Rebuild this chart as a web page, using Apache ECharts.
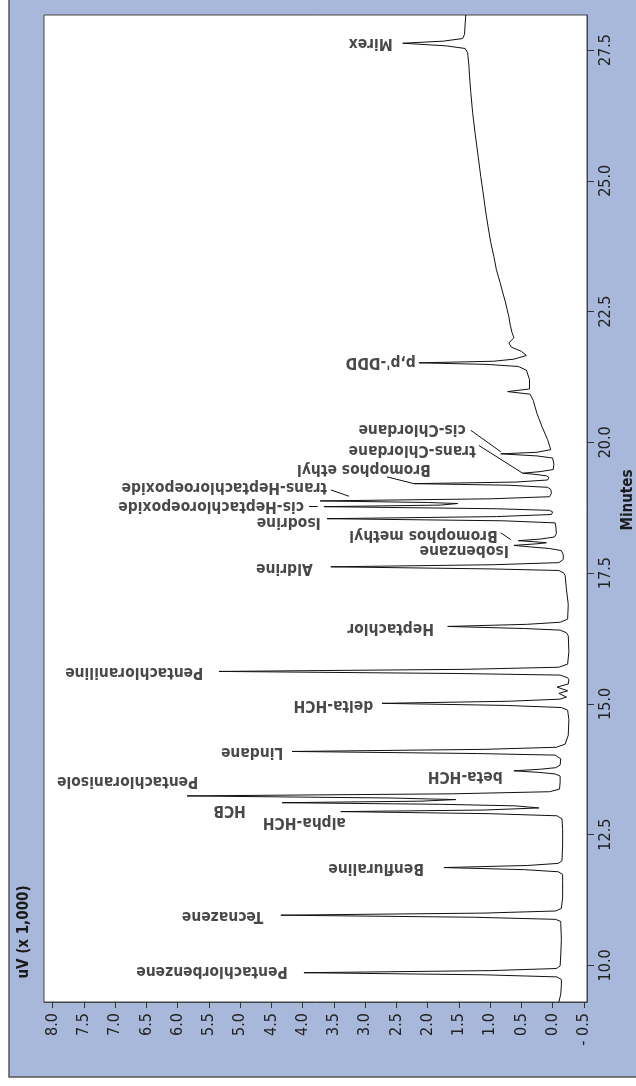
<!DOCTYPE html>
<html>
<head>
<meta charset="utf-8">
<script src="https://cdn.jsdelivr.net/npm/echarts@6/dist/echarts.min.js"></script>
<style>
html,body{margin:0;padding:0;background:#ffffff;}
#chart{width:636px;height:1086px;}
</style>
</head>
<body>
<div id="chart"></div>
<script>
// ---- data ----
const timeTicks = [10.0, 12.5, 15.0, 17.5, 20.0, 22.5, 25.0, 27.5];
const signalTicks = [-0.5, 0.0, 0.5, 1.0, 1.5, 2.0, 2.5, 3.0, 3.5, 4.0, 4.5, 5.0, 5.5, 6.0, 6.5, 7.0, 7.5, 8.0];

const traceTime = [
  9.30, 9.45, 9.62,
  9.73, 9.78, 9.82, 9.86, 9.90, 9.94, 9.99,
  10.20, 10.50, 10.80,
  10.84, 10.88, 10.92, 10.96, 11.00, 11.04, 11.09,
  11.30, 11.60,
  11.74, 11.79, 11.83, 11.87, 11.91, 11.95, 12.00,
  12.30, 12.60,
  12.80, 12.86, 12.90, 12.94, 12.97, 13.01,
  13.05, 13.08, 13.11, 13.14, 13.17,
  13.20, 13.24, 13.28, 13.32, 13.37,
  13.50,
  13.62, 13.66, 13.69, 13.72, 13.75, 13.78, 13.83, 13.95,
  13.98, 14.02, 14.05, 14.09, 14.13, 14.17, 14.23,
  14.40, 14.70,
  14.88, 14.93, 14.97, 15.01, 15.05, 15.09, 15.13,
  15.20, 15.25, 15.32, 15.38, 15.46,
  15.50, 15.55, 15.58, 15.62, 15.66, 15.70, 15.76,
  16.00, 16.30,
  16.36, 16.41, 16.44, 16.48, 16.52, 16.56, 16.62,
  16.90, 17.20, 17.45,
  17.50, 17.55, 17.58, 17.62, 17.66, 17.70, 17.76, 17.85,
  17.93, 17.97, 18.00, 18.03, 18.06, 18.08,
  18.10, 18.12, 18.15, 18.19, 18.26, 18.40,
  18.46, 18.50, 18.54, 18.58, 18.62, 18.67,
  18.70, 18.73, 18.77, 18.80, 18.83,
  18.85, 18.88, 18.92, 18.96, 19.02, 19.10,
  19.14, 19.18, 19.21, 19.24, 19.28, 19.33,
  19.36, 19.39, 19.41, 19.44, 19.48, 19.58,
  19.70, 19.74, 19.78, 19.81, 19.86,
  20.05, 20.30, 20.55, 20.80, 20.92, 20.97, 21.02, 21.20, 21.38,
  21.45, 21.49, 21.52, 21.55, 21.59, 21.66, 21.74, 21.82, 21.90,
  22.00, 22.10, 22.25, 22.40, 22.55, 22.70, 22.87, 23.05, 23.30, 23.55, 23.82,
  24.10, 24.40, 24.75, 25.08, 25.45, 25.90, 26.30, 26.69, 27.00, 27.20, 27.45,
  27.53, 27.58, 27.63, 27.67, 27.72, 27.80, 28.00, 28.17
];
const traceSignal = [
  -0.10, -0.13, -0.14,
  -0.14, -0.07, 1.10, 3.98, 1.00, -0.06, -0.12,
  -0.13, -0.14, -0.13,
  -0.13, -0.05, 1.25, 4.35, 1.10, -0.05, -0.14,
  -0.16, -0.16,
  -0.16, -0.09, 0.45, 1.74, 0.40, -0.09, -0.15,
  -0.16, -0.16,
  -0.15, -0.07, 1.00, 3.39, 1.10, 0.22,
  0.60, 1.80, 4.33, 2.10, 1.55,
  2.60, 5.85, 1.60, 0.05, -0.11,
  -0.12,
  -0.12, -0.04, 0.22, 0.62, 0.20, -0.05, -0.12, -0.13,
  -0.12, -0.04, 1.20, 4.17, 1.10, -0.06, -0.20,
  -0.25, -0.26,
  -0.24, -0.14, 0.75, 2.73, 0.70, -0.12, -0.22,
  -0.10, -0.24, -0.07, -0.25, -0.26,
  -0.24, -0.12, 1.50, 5.34, 1.40, -0.10, -0.24,
  -0.26, -0.25,
  -0.22, -0.12, 0.45, 1.68, 0.42, -0.12, -0.24,
  -0.25, -0.22, -0.20,
  -0.18, -0.10, 1.00, 3.55, 0.95, -0.10, -0.17, -0.17,
  -0.14, 0.05, 0.35, 0.62, 0.25, 0.10,
  0.30, 0.55, 0.20, -0.03, -0.06, -0.05,
  -0.04, 0.80, 3.61, 0.90, 0.02, 0.00,
  0.05, 0.90, 3.66, 1.80, 1.52,
  2.00, 3.72, 1.00, 0.05, 0.02, 0.03,
  0.08, 0.70, 2.22, 0.60, 0.08, 0.06,
  0.10, 0.30, 0.48, 0.20, -0.01, -0.02,
  0.00, 0.25, 0.83, 0.25, 0.03,
  0.08, 0.17, 0.25, 0.31, 0.36, 0.72, 0.37, 0.37, 0.42,
  0.55, 1.05, 2.14, 0.95, 0.62, 0.42, 0.50, 0.66, 0.70,
  0.62, 0.65, 0.68, 0.70, 0.73, 0.76, 0.80, 0.84, 0.90, 0.94, 0.99,
  1.03, 1.07, 1.11, 1.15, 1.19, 1.24, 1.28, 1.31, 1.33, 1.34, 1.36,
  1.40, 1.70, 2.40, 1.75, 1.44, 1.41, 1.40, 1.39
];

const labelNames = [
  'Pentachlorbenzene', 'Tecnazene', 'Benfluraline', 'alpha-HCH', 'HCB', 'Pentachloranisole',
  'beta-HCH', 'Lindane', 'delta-HCH', 'Pentachloraniline', 'Heptachlor', 'Aldrine',
  'Isobenzane', 'Bromophos methyl', 'Isodrine', 'cis-Heptachloroepoxide', 'trans-Heptachloroepoxide',
  'Bromophos ethyl', 'trans-Chlordane', 'cis-Chlordane', "p,p'-DDD", 'Mirex'
];
const labelTime = [
  9.89, 10.94, 11.86, 12.74, 12.97, 13.53,
  13.62, 14.08, 14.98, 15.61, 16.45, 17.60,
  17.94, 18.22, 18.47, 18.78, 19.14,
  19.49, 19.86, 20.25, 21.53, 27.63
];
const labelSignal = [
  4.24, 4.63, 2.06, 3.31, 4.91, 5.67,
  0.80, 4.31, 2.87, 5.59, 1.90, 3.84,
  0.70, 0.88, 3.71, 3.98, 3.61,
  1.95, 1.23, 1.39, 2.19, 2.56
];

// leader lines (from label to peak)
const leaderFromSignal = [0.83, 3.90, 3.55, 2.65, 1.18, 1.31];
const leaderFromTime   = [18.27, 18.78, 19.09, 19.34, 19.94, 20.23];
const leaderToSignal   = [0.67, 3.76, 3.26, 2.22, 0.48, 0.83];
const leaderToTime     = [18.14, 18.78, 18.97, 19.21, 19.41, 19.82];

// ---- chart ----
const FONT = '"DejaVu Sans Condensed", "Liberation Sans", sans-serif';
const chart = echarts.init(document.getElementById('chart'), null, {renderer: 'canvas'});

const traceData = traceTime.map((t, i) => [traceSignal[i], t]);
const labelData = labelNames.map((n, i) => ({name: n, value: [labelSignal[i], labelTime[i]]}));
const leaderData = leaderFromSignal.map((s, i) => ({
  coords: [[s, leaderFromTime[i]], [leaderToSignal[i], leaderToTime[i]]]
}));

const fmt = v => (v < 0 ? '- ' + Math.abs(v).toFixed(1) : v.toFixed(1));

chart.setOption({
  animation: false,
  backgroundColor: 'transparent',
  graphic: [
    {type: 'rect', z: -10, silent: true,
     shape: {x: 9, y: -10, width: 640, height: 1087},
     style: {fill: '#a8b8da', stroke: '#555555', lineWidth: 1.5}},
    {type: 'text', z: 10, silent: true, x: 24, y: 932, rotation: Math.PI / 2,
     style: {text: 'uV (x 1,000)', font: 'bold 15px ' + FONT, fill: '#1a1a1a',
             textAlign: 'center', textVerticalAlign: 'middle'}},
    {type: 'text', z: 10, silent: true, x: 628, y: 500, rotation: Math.PI / 2,
     style: {text: 'Minutes', font: 'bold 15px ' + FONT, fill: '#1a1a1a',
             textAlign: 'center', textVerticalAlign: 'middle'}}
  ],
  grid: {left: 44, right: 49, top: 15, bottom: 84, show: true,
         backgroundColor: '#ffffff', borderColor: '#444444', borderWidth: 1},
  xAxis: {
    type: 'value', inverse: true, min: -0.55, max: 8.14, position: 'bottom',
    axisLine: {show: true, onZero: false, lineStyle: {color: '#444444', width: 1}},
    axisTick: {show: true, customValues: signalTicks, length: 6, lineStyle: {color: '#333333'}},
    axisLabel: {show: true, customValues: signalTicks, rotate: 90, margin: 11,
                formatter: fmt, fontFamily: FONT, fontSize: 16, color: '#222222'},
    splitLine: {show: false}
  },
  yAxis: {
    type: 'value', min: 9.3, max: 28.17, position: 'right',
    axisLine: {show: true, onZero: false, lineStyle: {color: '#444444', width: 1}},
    axisTick: {show: true, customValues: timeTicks, length: 7, lineStyle: {color: '#333333'}},
    axisLabel: {show: true, customValues: timeTicks, rotate: 90, margin: 11,
                formatter: v => v.toFixed(1), fontFamily: FONT, fontSize: 16, color: '#222222'},
    splitLine: {show: false}
  },
  series: [
    {type: 'line', data: traceData, showSymbol: false, smooth: false,
     lineStyle: {color: '#111111', width: 1}, z: 3, clip: true},
    {type: 'lines', coordinateSystem: 'cartesian2d', data: leaderData,
     lineStyle: {color: '#111111', width: 1, opacity: 1}, z: 4},
    {type: 'scatter', data: labelData, symbolSize: 0, z: 5,
     label: {show: true, position: 'inside', formatter: p => p.name, rotate: 180,
             align: 'left', verticalAlign: 'middle',
             fontFamily: FONT, fontWeight: 'bold', fontSize: 15.5, color: '#1a1a1a'}}
  ]
});
</script>
</body>
</html>
